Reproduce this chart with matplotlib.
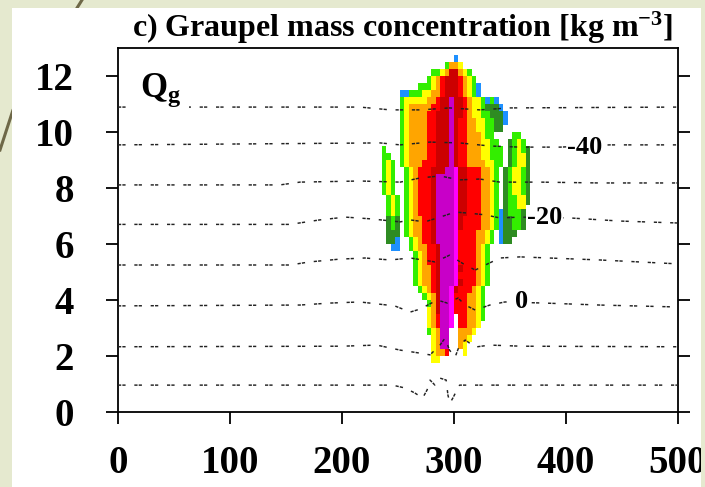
import numpy as np
import matplotlib
matplotlib.use("Agg")
import matplotlib.pyplot as plt
from matplotlib.colors import ListedColormap, BoundaryNorm
from matplotlib.patches import Rectangle
from matplotlib.lines import Line2D

plt.rcParams['font.family'] = ['Liberation Serif', 'DejaVu Serif']
plt.rcParams['font.weight'] = 'bold'
plt.rcParams['mathtext.fontset'] = 'custom'
plt.rcParams['mathtext.rm'] = 'Liberation Serif:bold'
plt.rcParams['mathtext.bf'] = 'Liberation Serif:bold'
plt.rcParams['mathtext.it'] = 'Liberation Serif:bold'

# ---------------- data ----------------
# graupel field on model grid: columns = x (km), rows = height (km), top row first
x_edges_km = np.arange(236, 377, 4)          # 35 columns
z_edges_km = np.arange(1.75, 12.76, 0.25)    # 44 rows
# category codes: 1 blue,2 dark green,3 green,4 yellow,5 orange,6 red,7 dark red,8 purple,9 magenta
graupel_rows = [
    ".....|.....|.....|.1...|.....|.....|.....",
    ".....|.....|....3|554..|.....|.....|.....",
    ".....|.....|.3345|77543|.....|.....|.....",
    ".....|.....|34567|77654|3....|.....|.....",
    ".....|...33|34567|77654|31...|.....|.....",
    "....1|13334|45567|77654|31...|.....|.....",
    "....3|44444|55677|87765|44313|1....|.....",
    "....3|45555|56677|87765|44322|21...|.....",
    "....3|45555|66777|87765|44332|221..|.....",
    "....3|45555|66777|87665|54433|221..|.....",
    "....3|45555|66777|87665|54433|22...|.....",
    "....3|45555|66777|87665|55433|....3|3....",
    "....3|45555|66777|87665|55443|3..23|43...",
    "3...3|45555|66777|87665|55443|33.23|432..",
    "33..3|45555|66777|87665|55443|33.23|442..",
    "343.3|45556|66777|87665|55544|33.23|442..",
    "343..|34566|67778|89776|66554|3.234|432..",
    "343..|34566|67888|89776|66554|3.234|432..",
    "343..|34566|67888|89776|66554|3.234|432..",
    "343..|34566|67888|89776|66554|3.234|432..",
    ".343.|34566|67888|89776|66554|3.233|442..",
    ".343.|34566|67888|89776|66554|3.233|442..",
    ".343.|34566|67888|89776|66554|31233|322..",
    ".232.|34556|67888|89766|66554|31223|32...",
    ".232.|34556|67888|89766|66554|31223|32...",
    ".222.|34556|67888|89666|65543|.1222|.....",
    ".221.|.3456|67888|89666|65543|.122.|.....",
    "..11.|.3455|66788|89666|6543.|.....|.....",
    ".....|..345|66788|89666|6543.|.....|.....",
    ".....|..345|66788|89666|6543.|.....|.....",
    ".....|..345|56788|89766|6543.|.....|.....",
    ".....|..345|56788|89666|6543.|.....|.....",
    ".....|..345|56788|89766|6543.|.....|.....",
    ".....|...34|56788|97666|543..|.....|.....",
    ".....|....3|45788|96665|543..|.....|.....",
    ".....|.....|35788|96665|543..|.....|.....",
    ".....|.....|45788|96665|543..|.....|.....",
    ".....|.....|45688|9.665|543..|.....|.....",
    ".....|.....|45688|9.665|54...|.....|.....",
    ".....|.....|34588|..555|4....|.....|.....",
    ".....|.....|.4588|..554|.....|.....|.....",
    ".....|.....|.4588|..54.|.....|.....|.....",
    ".....|.....|.4556|...4.|.....|.....|.....",
    ".....|.....|.44..|.....|.....|.....|.....",
]
category_colors = ['#1e90ff', '#2e8b22', '#33ee00', '#ffff00', '#ffa500',
                   '#ff0000', '#cc0000', '#c800c8', '#ff00ff']

# isotherms (deg C): x (km) and height (km)
t20_x = [0, 245, 256, 265, 272, 276, 278.6, 283, 287.5, 293, 294.6, 296.4, 299, 302.7, 305, 500]
t20_z = [0.96, 0.96, 0.86, 0.68, 0.5, 0.79, 1.14, 0.96, 1.21, 1.14, 0.6, 0.32, 0.5, 0.79, 0.96, 0.96]
t10_x = [0, 200, 231, 252, 270, 278.6, 287.5, 292, 296, 301, 305, 310, 319, 332, 360, 500]
t10_z = [2.33, 2.35, 2.39, 2.21, 2.1, 2.04, 2.39, 2.64, 2.21, 1.96, 2.39, 2.57, 2.32, 2.39, 2.35, 2.33]
t0_x = [0, 162.5, 189, 216, 247, 261, 270, 285, 294, 303.6, 310, 319, 332, 345.5, 381, 430, 500]
t0_z = [3.79, 3.82, 3.89, 3.93, 3.79, 3.57, 3.68, 4.0, 3.89, 4.07, 3.82, 3.64, 3.82, 3.93, 3.89, 3.82, 3.75]
tm10_x = [0, 153.6, 171, 198, 220.5, 243, 261, 283, 296, 310, 319, 328, 341, 359, 430, 500]
tm10_z = [5.25, 5.25, 5.36, 5.46, 5.5, 5.43, 5.5, 5.36, 5.6, 5.25, 5.07, 5.25, 5.5, 5.54, 5.43, 5.29]
tm20_x = [0, 153.6, 180, 203, 225, 252, 261, 274, 287.5, 301, 314, 328, 341, 359, 403.6, 448, 500]
tm20_z = [6.7, 6.7, 6.86, 6.96, 6.9, 6.79, 6.86, 6.79, 6.96, 7.14, 7.1, 7.04, 6.93, 6.96, 6.93, 6.82, 6.75]
tm30_x = [0, 144.6, 162.5, 216, 252, 270, 287.5, 305, 323, 341, 377, 430, 500]
tm30_z = [8.11, 8.11, 8.21, 8.25, 8.21, 8.36, 8.43, 8.29, 8.32, 8.21, 8.21, 8.18, 8.18]
tm40_x = [0, 234, 252, 278.6, 305, 332, 359, 395, 439, 500]
tm40_z = [9.54, 9.61, 9.54, 9.64, 9.61, 9.5, 9.46, 9.46, 9.54, 9.54]
tm50_x = [0, 216, 243, 270, 296, 323, 350, 500]
tm50_z = [10.89, 10.89, 10.79, 10.79, 10.86, 10.79, 10.86, 10.89]

iso_labels = ["0", "-20", "-40"]
iso_label_x = [360.5, 381, 417]
iso_label_z = [3.93, 6.96, 9.46]

x_ticks = [0, 100, 200, 300, 400, 500]
y_ticks = [0, 2, 4, 6, 8, 10, 12]

# ---------------- figure ----------------
W, H = 705, 487
bg = '#e5e9cf'
fig = plt.figure(figsize=(W / 100, H / 100), dpi=100, facecolor=bg)

# slide decoration (behind the white panel)
fig.add_artist(Line2D([82 / W, 13 / W, 0], [1, 1 - 110 / H, 1 - 150 / H],
                      transform=fig.transFigure, color='#6e6848', lw=2.2, zorder=-3))
fig.add_artist(Rectangle((12 / W, 0), (701 - 12) / W, (H - 8) / H, transform=fig.transFigure,
                         facecolor='white', edgecolor='none', zorder=-2))

ax = fig.add_axes([118 / W, 75 / H, 560 / W, 364 / H])
ax.set_facecolor('white')
ax.set_xlim(0, 500)
ax.set_ylim(0, 13)

codes = np.array([[0 if c == '.' else int(c) for c in r.replace('|', '')] for r in graupel_rows])
field = np.ma.masked_equal(codes, 0)
cmap = ListedColormap(category_colors)
norm = BoundaryNorm(np.arange(0.5, 10.5, 1.0), cmap.N)
ax.imshow(field, extent=(x_edges_km[0], x_edges_km[-1], z_edges_km[0], z_edges_km[-1]),
          origin='upper', aspect='auto', interpolation='nearest', cmap=cmap, norm=norm, zorder=1)

dash = (0, (2.2, 0.8, 2.2, 6.0))
for xs, zs in [(t20_x, t20_z), (t10_x, t10_z), (t0_x, t0_z), (tm10_x, tm10_z),
               (tm20_x, tm20_z), (tm30_x, tm30_z), (tm40_x, tm40_z), (tm50_x, tm50_z)]:
    ax.plot(xs, zs, color='#222222', lw=1.05, linestyle=dash, zorder=3)

for lab, lx, lz in zip(iso_labels, iso_label_x, iso_label_z):
    ax.text(lx, lz, lab, fontsize=19, fontweight='bold', ha='center', va='center', zorder=4,
            bbox=dict(facecolor='white', edgecolor='none', pad=0.5))

ax.text(19.6, 11.25, r"$\mathbf{Q_g}$", fontsize=25, ha='left', va='baseline', zorder=4,
        bbox=dict(facecolor='white', edgecolor='none', pad=6))

ax.set_xticks(x_ticks)
ax.set_yticks(y_ticks)
ax.tick_params(axis='both', direction='out', length=8.5, width=1.3, labelsize=28, colors='black')
ax.tick_params(axis='y', right=True, labelright=False, pad=23)
ax.tick_params(axis='x', top=False, pad=15)
for s in ax.spines.values():
    s.set_linewidth(1.3)

fig.text(403 / W, 1 - 37 / H, r"c) Graupel mass concentration [kg m$^{-3}$]",
         fontsize=23, fontweight='bold', ha='center', va='baseline')

# right edge strip of the slide (on top)
fig.add_artist(Rectangle((701 / W, 0), 4 / W, 1, transform=fig.transFigure,
                         facecolor=bg, edgecolor='none', zorder=10))

fig.savefig('out.png', dpi=100, facecolor=bg)
